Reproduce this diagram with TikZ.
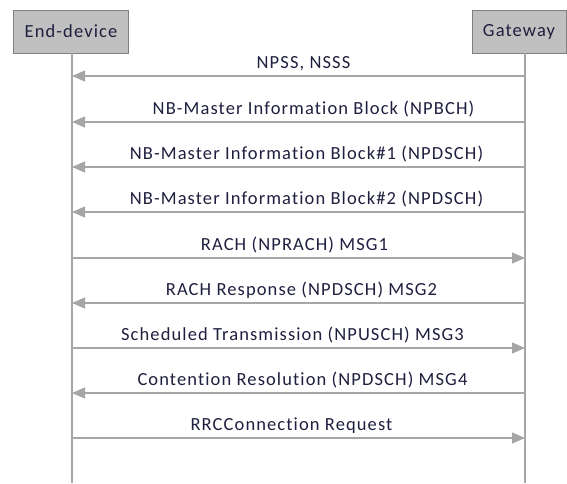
\documentclass[tikz,border=0pt]{standalone}
\usepackage{fontspec}
\setmainfont[Ligatures={NoCommon},LetterSpace=6]{Carlito}
\usetikzlibrary{positioning,calc,arrows.meta}
\definecolor{boxgray}{HTML}{C0C0C0}
\definecolor{linegray}{HTML}{A6A6A6}
\definecolor{txtdark}{HTML}{1F1F3F}

\begin{document}
\begin{tikzpicture}[x=1pt,y=-1pt]
    % Setup the styles
        \tikzset{actor style/.style={draw=gray,
                                     fill=boxgray,
                                     line width=0.8pt,
                                     minimum height=43pt,
                                     inner xsep=6pt,
                                     font=\fontsize{18.5}{21}\selectfont,
                                     text=txtdark},
                 msg style/.style={draw=linegray,
                                   line width=1.3pt,
                                   -{Triangle[length=13pt,width=11pt]}},
                 lbl style/.style={above=1pt,
                                   font=\fontsize{18.5}{21}\selectfont,
                                   text=txtdark}}
        \useasboundingbox (0,0) rectangle (567,483);

        % Draw the actors
        \node[actor style, minimum width=115pt] at (71, 31.5)  (ed) {End-device};
        \node[actor style, minimum width=94pt]  at (519, 31.5) (gw) {Gateway};
        \coordinate (edend) at (72, 483);
        \coordinate (gwend) at (525, 483);
        \draw[linegray, line width=1.3pt] (ed.south -| edend) -- (edend);
        \draw[linegray, line width=1.3pt] (gw.south -| gwend) -- (gwend);

        % Messages
        \foreach \i/\y/\dx/\dir/\txt in {
                1/76/5/l/{NPSS, NSSS},
                2/122/15/l/{NB-Master Information Block (NPBCH)},
                3/167/8/l/{NB-Master Information Block\#1 (NPDSCH)},
                4/212/8/l/{NB-Master Information Block\#2 (NPDSCH)},
                5/258/-4/r/{RACH (NPRACH) MSG1},
                6/303/3/l/{RACH Response (NPDSCH) MSG2},
                7/348/-6/r/{Scheduled Transmission (NPUSCH) MSG3},
                8/393/4/l/{Contention Resolution (NPDSCH) MSG4},
                9/438/-7/r/{RRCConnection Request}} {
            \coordinate (e\i) at (72, \y);
            \coordinate (g\i) at (525, \y);
            \if\dir l
                \draw[msg style] (g\i) -- node[lbl style, xshift=\dx pt] {\txt} (e\i);
            \else
                \draw[msg style] (e\i) -- node[lbl style, xshift=\dx pt] {\txt} (g\i);
            \fi
        }
\end{tikzpicture}
\end{document}
